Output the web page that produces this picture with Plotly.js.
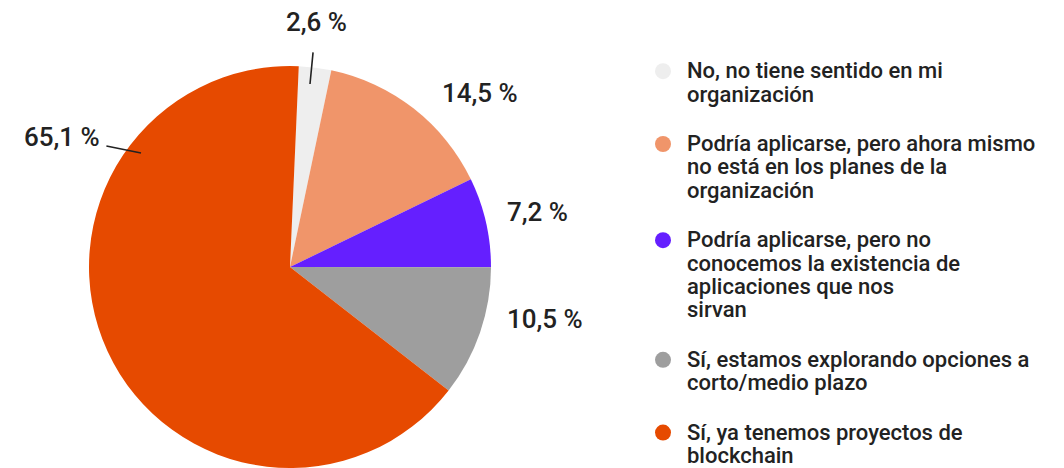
<!DOCTYPE html>
<html>
<head>
<meta charset="utf-8">
<script src="https://cdn.plot.ly/plotly-3.0.1.min.js"></script>
<style>html,body{margin:0;padding:0;background:#fff;}#chart{width:1064px;height:468px;}</style>
</head>
<body>
<div id="chart"></div>
<script>
var categories = [
  "No, no tiene sentido en mi<br>organización",
  "Podría aplicarse, pero ahora mismo<br>no está en los planes de la<br>organización",
  "Podría aplicarse, pero no<br>conocemos la existencia de<br>aplicaciones que nos<br>sirvan",
  "Sí, estamos explorando opciones a<br>corto/medio plazo",
  "Sí, ya tenemos proyectos de<br>blockchain"
];
var values = [2.6, 14.5, 7.2, 10.5, 65.1];
var colors = ["#eeeeee", "#f0956a", "#651fff", "#9e9e9e", "#e64a00"];

var labelsText = values.map(function(v){ return v.toFixed(1).replace('.', ',') + ' %'; });

var W = 1064, H = 468;
var cx = 290, cy = 267, r = 201;

var pie = {
  type: 'pie',
  labels: categories,
  values: values,
  textinfo: 'none',
  sort: false,
  direction: 'clockwise',
  rotation: 2.5,
  marker: {colors: colors, line: {width: 0}},
  showlegend: false,
  hoverinfo: 'label+value',
  domain: {x: [(cx - r) / W, (cx + r) / W], y: [(H - cy - r) / H, (H - cy + r) / H]}
};

var traces = [pie];
categories.forEach(function(c, i){
  traces.push({
    type: 'scatter', mode: 'markers', x: [null], y: [null],
    name: c, legendgroup: 'g' + i,
    marker: {symbol: 'circle', size: 16, color: colors[i]},
    showlegend: true, hoverinfo: 'skip'
  });
});

// label placement (pixel centre of each label text); leader line tip where needed
var labelPlace = [
  {x: 316, y: 22, tip: [310, 84], stand: 14},
  {x: 480, y: 93},
  {x: 537, y: 212},
  {x: 545, y: 319},
  {x: 62, y: 137, tip: [141, 153], stand: 5}
];

var annotations = labelsText.map(function(t, i){
  var p = labelPlace[i];
  var a = {
    text: t, xref: 'paper', yref: 'paper',
    xanchor: 'center', yanchor: 'middle',
    font: {family: 'Roboto', size: 26, color: '#222', weight: 500},
    showarrow: false
  };
  if (p.tip) {
    a.x = p.tip[0] / W; a.y = 1 - p.tip[1] / H;
    a.showarrow = true; a.arrowhead = 0; a.arrowwidth = 1.6; a.arrowcolor = '#222';
    a.ax = p.x - p.tip[0]; a.ay = p.y - p.tip[1];
    a.startstandoff = p.stand; a.standoff = 0;
  } else {
    a.x = p.x / W; a.y = 1 - p.y / H;
  }
  return a;
});

var legendBase = 18, legendShown = 22;

var layout = {
  width: W, height: H,
  margin: {l: 0, r: 0, t: 0, b: 0, autoexpand: false},
  paper_bgcolor: '#fff', plot_bgcolor: '#fff',
  xaxis: {visible: false}, yaxis: {visible: false},
  showlegend: true,
  annotations: annotations,
  legend: {
    x: 639 / W, y: 1 - 53 / H, xanchor: 'left', yanchor: 'top',
    font: {family: 'Roboto', size: legendBase, color: '#222', weight: 500},
    itemwidth: 38, tracegroupgap: 23, valign: 'top',
    bgcolor: 'rgba(0,0,0,0)', itemclick: false, itemdoubleclick: false
  }
};

Plotly.newPlot('chart', traces, layout, {displayModeBar: false, staticPlot: true}).then(function(gd){
  // show legend text a bit larger while keeping the computed line pitch
  var f = legendBase / legendShown;
  gd.querySelectorAll('.legend [clip-path]').forEach(function(e){ e.removeAttribute('clip-path'); });
  gd.querySelectorAll('.legend .legendtext').forEach(function(t){
    t.style.fontSize = legendShown + 'px';
    t.querySelectorAll('tspan.line').forEach(function(l, k){
      if (k === 0) return;
      var dy = l.getAttribute('dy');
      if (dy && /em$/.test(dy)) l.setAttribute('dy', (parseFloat(dy) * f) + 'em');
    });
  });
});
</script>
</body>
</html>
